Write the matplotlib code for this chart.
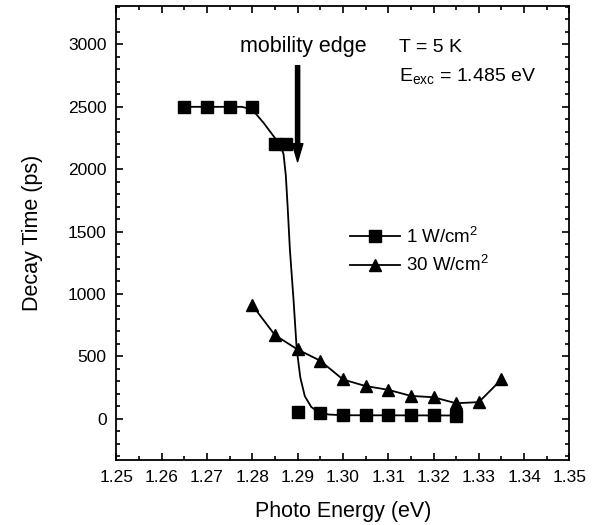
import numpy as np
import matplotlib
matplotlib.use('Agg')
import matplotlib.pyplot as plt

plt.rcParams['font.family'] = ['Liberation Sans', 'DejaVu Sans']
plt.rcParams['mathtext.default'] = 'regular'

# 1 W/cm2 data
e_sq = [1.265, 1.270, 1.275, 1.280, 1.285, 1.2875,
        1.290, 1.295, 1.300, 1.305, 1.310, 1.315, 1.320, 1.325]
t_sq = [2500, 2500, 2500, 2500, 2200, 2200,
        50, 45, 30, 30, 30, 30, 30, 25]

# fitted curve through the 1 W/cm2 data
e_fit = [1.265, 1.2777, 1.280, 1.2825, 1.2850, 1.2862, 1.2869, 1.2874, 1.2878,
         1.2883, 1.2891, 1.2898, 1.2906, 1.2916, 1.2930, 1.2945, 1.2968, 1.3000, 1.3254]
t_fit = [2500, 2500, 2478, 2371, 2250, 2200, 2120, 1950, 1700,
         1355, 954, 560, 330, 180, 95, 55, 34, 28, 26]

# 30 W/cm2 data
e_tr = [1.280, 1.285, 1.290, 1.295, 1.300, 1.305,
        1.310, 1.315, 1.320, 1.325, 1.330, 1.335]
t_tr = [910, 670, 555, 465, 315, 262, 232, 183, 172, 124, 133, 315]

fig = plt.figure(figsize=(6, 5.25), dpi=100)
ax = fig.add_axes([0.194, 0.124, 0.755, 0.865])

ax.plot(e_fit, t_fit, color='black', lw=1.3)
ax.plot(e_sq, t_sq, 's', color='black', ms=8.5)
ax.plot([], [], '-s', color='black', ms=8.5, lw=1.3, label='1 W/cm$^2$')
ax.plot(e_tr, t_tr, '-^', color='black', ms=9, lw=1.3, label='30 W/cm$^2$')

ax.annotate('', xy=(1.290, 2060), xytext=(1.290, 2830),
            arrowprops=dict(arrowstyle='simple,head_length=0.65,head_width=0.38,tail_width=0.15',
                            color='black', mutation_scale=20,
                            shrinkA=0, shrinkB=0))
ax.text(1.2913, 2985, 'mobility edge', ha='center', va='center', fontsize=15.5)
ax.text(1.3123, 2972, 'T = 5 K', ha='left', va='center', fontsize=14)
ax.text(1.3123, 2745, 'E$_{exc}$ = 1.485 eV', ha='left', va='center', fontsize=14)

ax.legend(loc='center left', bbox_to_anchor=(0.515, 0.46), frameon=False,
          fontsize=13.5, handlelength=2.7, handletextpad=0.3,
          labelspacing=0.45, borderpad=0, borderaxespad=0)

ax.set_xlim(1.25, 1.35)
ax.set_ylim(-330, 3310)
ax.set_xticks(np.arange(1.25, 1.3501, 0.01))
ax.set_xticks(np.arange(1.255, 1.35, 0.01), minor=True)
ax.set_yticks(np.arange(0, 3001, 500))
ax.set_yticks(np.arange(-300, 3301, 100), minor=True)
ax.set_xticklabels(['%.2f' % v for v in np.arange(1.25, 1.3501, 0.01)])
ax.tick_params(which='both', direction='in', top=True, right=True, labelsize=12.5)
ax.tick_params(which='major', length=5, width=1.2, pad=7)
ax.tick_params(which='minor', length=3, width=1.2)
for s in ax.spines.values():
    s.set_linewidth(1.3)

ax.set_xlabel('Photo Energy (eV)', fontsize=15.5, labelpad=12)
ax.set_ylabel('Decay Time (ps)', fontsize=15.5, labelpad=18)

fig.savefig('out.png', dpi=100)
